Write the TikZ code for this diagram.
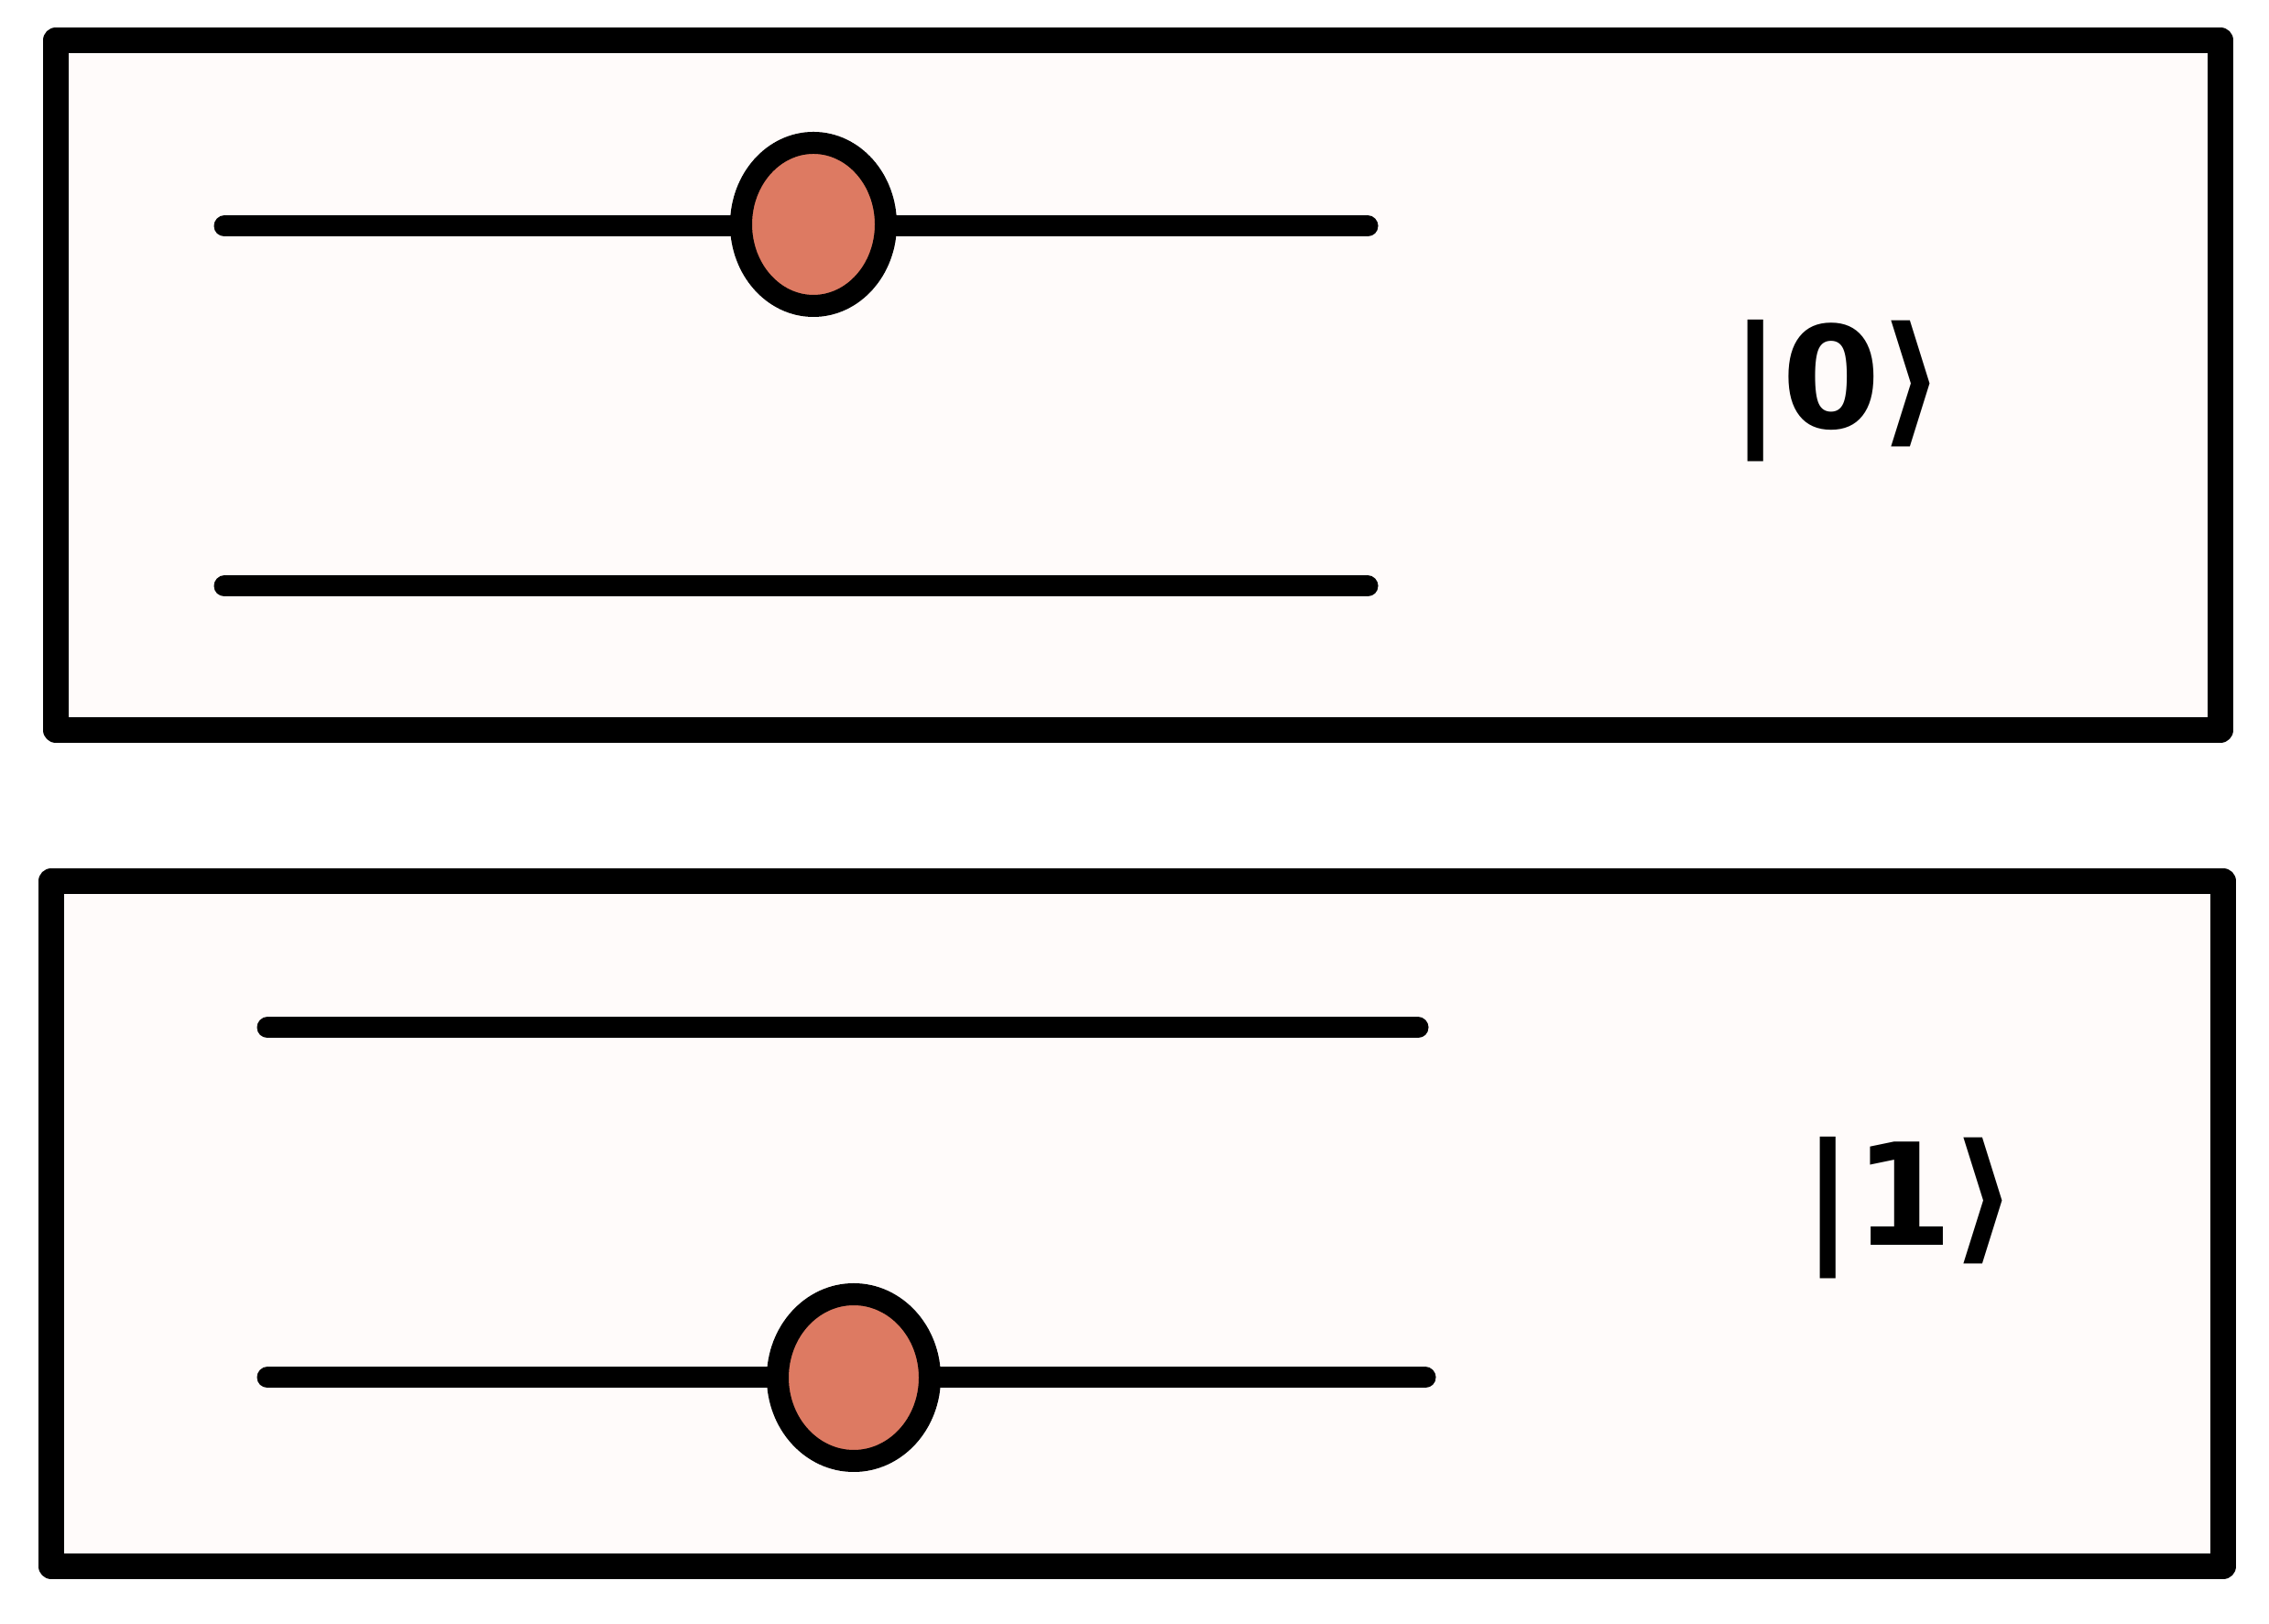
\documentclass[tikz,border=0pt]{standalone}
\usepackage{fontspec}
\newfontfamily\ketfont{DejaVu Sans}
\usepackage{tikz}
\usetikzlibrary{shapes.geometric,positioning,calc}
\definecolor{qbgray}{RGB}{255,251,250}
\definecolor{qbknob}{RGB}{221,122,98}

\begin{document}
\begin{tikzpicture}[
  panel/.style={draw=black, fill=qbgray, line width=2.8mm, line join=round},
  track/.style={line width=2.3mm, line cap=round, black},
  knob/.style={ellipse, draw=black, fill=qbknob, line width=2.4mm, inner sep=0pt, minimum width=1.58cm, minimum height=1.78cm},
  ket/.style={font=\ketfont\fontsize{44}{44}\selectfont\bfseries, inner sep=0pt}
]
\useasboundingbox (0,0) rectangle (24.77,17.73);

% Panel |0>
\draw[panel] (0.61,17.29) rectangle (24.24,9.76);
\coordinate (a1) at (2.45,15.26);
\coordinate (a2) at (14.93,15.26);
\coordinate (b1) at (2.45,11.33);
\coordinate (b2) at (14.93,11.33);
\draw[track] (a1) -- (a2);
\draw[track] (b1) -- (b2);
\node[knob] (knobzero) at (8.88,15.28) {};
\node[ket] (ketzero) at (20.06,13.46) {|0⟩};

% Panel |1>
\draw[panel] (0.56,8.11) rectangle (24.27,0.63);
\coordinate (c1) at (2.92,6.51);
\coordinate (c2) at (15.48,6.51);
\coordinate (d1) at (2.92,2.69);
\coordinate (d2) at (15.56,2.69);
\draw[track] (c1) -- (c2);
\draw[track] (d1) -- (d2);
\node[knob, minimum width=1.66cm, minimum height=1.82cm] (knobone) at (9.32,2.69) {};
\node[ket] (ketone) at (20.85,4.54) {|1⟩};

\end{tikzpicture}
\end{document}
